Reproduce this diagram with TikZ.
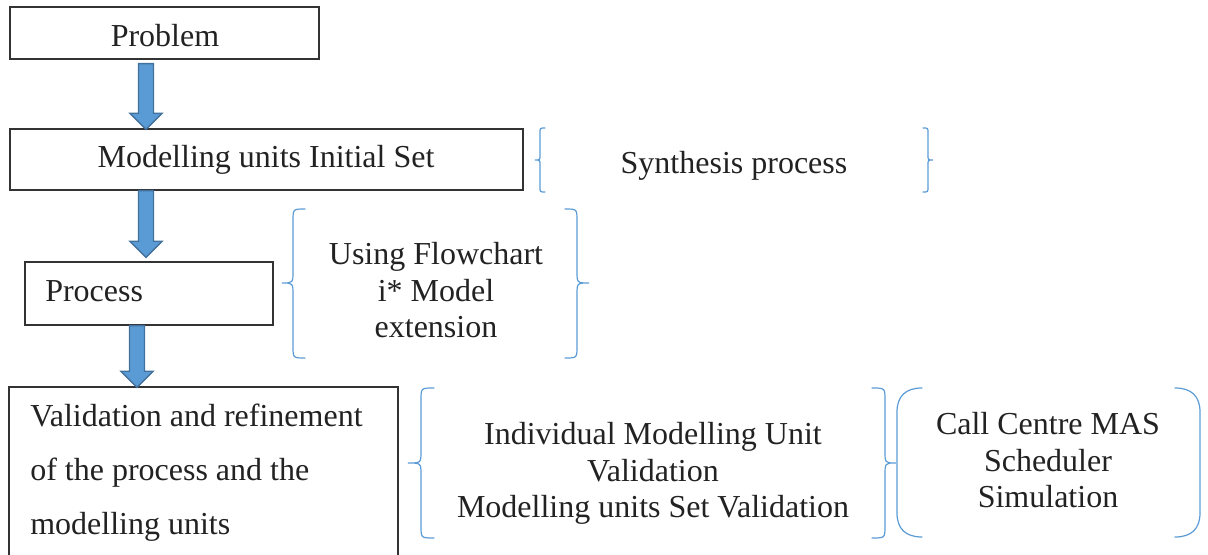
\documentclass[tikz,border=0pt]{standalone}
\usepackage{fontspec}
\setmainfont{Liberation Serif}
\usetikzlibrary{calc}

\definecolor{boxline}{HTML}{333333}
\definecolor{arrowfill}{HTML}{5B9BD5}
\definecolor{arrowline}{HTML}{41719C}
\definecolor{bracecol}{HTML}{5B9BD5}
\definecolor{ink}{HTML}{222222}

\tikzset{
  stagebox/.style={draw=boxline, line width=1pt, rectangle, inner sep=0pt},
  lbl/.style={inner sep=0pt, text=ink, font=\fontsize{24}{27.4}\selectfont},
  widelbl/.style={inner sep=0pt, text=ink, font=\fontsize{24}{40.5}\selectfont},
  blockarrow/.style={fill=arrowfill, draw=arrowline, line width=1pt, line join=miter},
  bracepath/.style={draw=bracecol, line width=0.9pt, line cap=round}
}

% curly brace: tip x, body x, hook x, top y, middle y, bottom y, hook size
\newcommand\curlybrace[7]{%
  \draw[bracepath] (#3,#4) .. controls (#2,#4) .. (#2,#4+#7) -- (#2,#5-#7)
    .. controls (#2,#5) .. (#1,#5) .. controls (#2,#5) .. (#2,#5+#7)
    -- (#2,#6-#7) .. controls (#2,#6) .. (#3,#6);}

% rounded bracket: end x, side x, top y, bottom y
\newcommand\roundbracket[4]{%
  \draw[bracepath] (#1,#3) .. controls ($(#2,#3)!0.35!(#1,#3)$) and (#2,#3+8) .. (#2,#3+24)
    -- (#2,#4-24) .. controls (#2,#4-8) and ($(#2,#4)!0.35!(#1,#4)$) .. (#1,#4);}

% thick block arrow pointing down, from #1 to #2
\newcommand\blockdown[2]{%
  \draw[blockarrow] let \p1=(#1), \p2=(#2) in
    (\x1-5.6pt,\y1) -- (\x1+5.6pt,\y1) -- (\x1+5.6pt,\y2+12pt)
    -- (\x1+12pt,\y2+12pt) -- (\x1,\y2) -- (\x1-12pt,\y2+12pt)
    -- (\x1-5.6pt,\y2+12pt) -- cycle;}

\begin{document}
\begin{tikzpicture}[x=0.75pt, y=-0.75pt]
  \useasboundingbox (0,0) rectangle (1208,555);

  % stages
  \node[stagebox, minimum width=231.75pt, minimum height=39pt] (problem) at (164.5,33) {};
  \node[stagebox, minimum width=384.75pt, minimum height=45.75pt] (init) at (266.5,159.5) {};
  \node[stagebox, minimum width=186pt, minimum height=47.25pt] (proc) at (149,293.5) {};
  \node[stagebox, minimum width=291.75pt, minimum height=135pt] (valid) at (203.5,477) {};

  % stage texts (multi-line nodes sit on the baseline of their last line)
  \node[lbl, anchor=base] (problemtxt) at (165,47) {Problem};
  \node[lbl, anchor=base] (inittxt) at (266,168) {Modelling units Initial Set};
  \node[lbl, anchor=base west] (proctxt) at (45,302) {Process};
  \node[widelbl, anchor=base west, align=left] (validtxt) at (30,535)
    {Validation and refinement\\of the process and the\\modelling units};

  % flow arrows
  \coordinate (col1) at (146,0);
  \coordinate (col2) at (137,0);
  \blockdown{$(col1 |- problem.south)+(0,4)$}{$(col1 |- init.north)+(0,1)$}
  \blockdown{col1 |- init.south}{$(col1 |- proc.north)+(0,-4)$}
  \blockdown{col2 |- proc.south}{$(col2 |- valid.north)+(0,1)$}

  % annotations
  \curlybrace{535}{540}{545}{128}{160}{192}{5}
  \curlybrace{933}{928}{923}{128}{160}{192}{5}
  \node[lbl, anchor=base] (synth) at (734,174) {Synthesis process};

  \curlybrace{282}{293}{305}{209}{283}{358}{12}
  \curlybrace{589}{577}{565}{209}{283}{358}{12}
  \node[lbl, anchor=base, align=center] (usage) at (436,338)
    {Using Flowchart\\i* Model\\extension};

  \curlybrace{408}{421}{434}{388}{463}{538}{12}
  \curlybrace{896}{885}{872}{388}{463}{538}{12}
  \node[lbl, anchor=base, align=center] (checks) at (653,518)
    {Individual Modelling Unit\\Validation\\Modelling units Set Validation};

  \roundbracket{922}{897}{388}{537}
  \roundbracket{1175}{1200}{388}{537}
  \node[lbl, anchor=base, align=center] (sim) at (1048,508)
    {Call Centre MAS\\Scheduler\\Simulation};
\end{tikzpicture}
\end{document}
